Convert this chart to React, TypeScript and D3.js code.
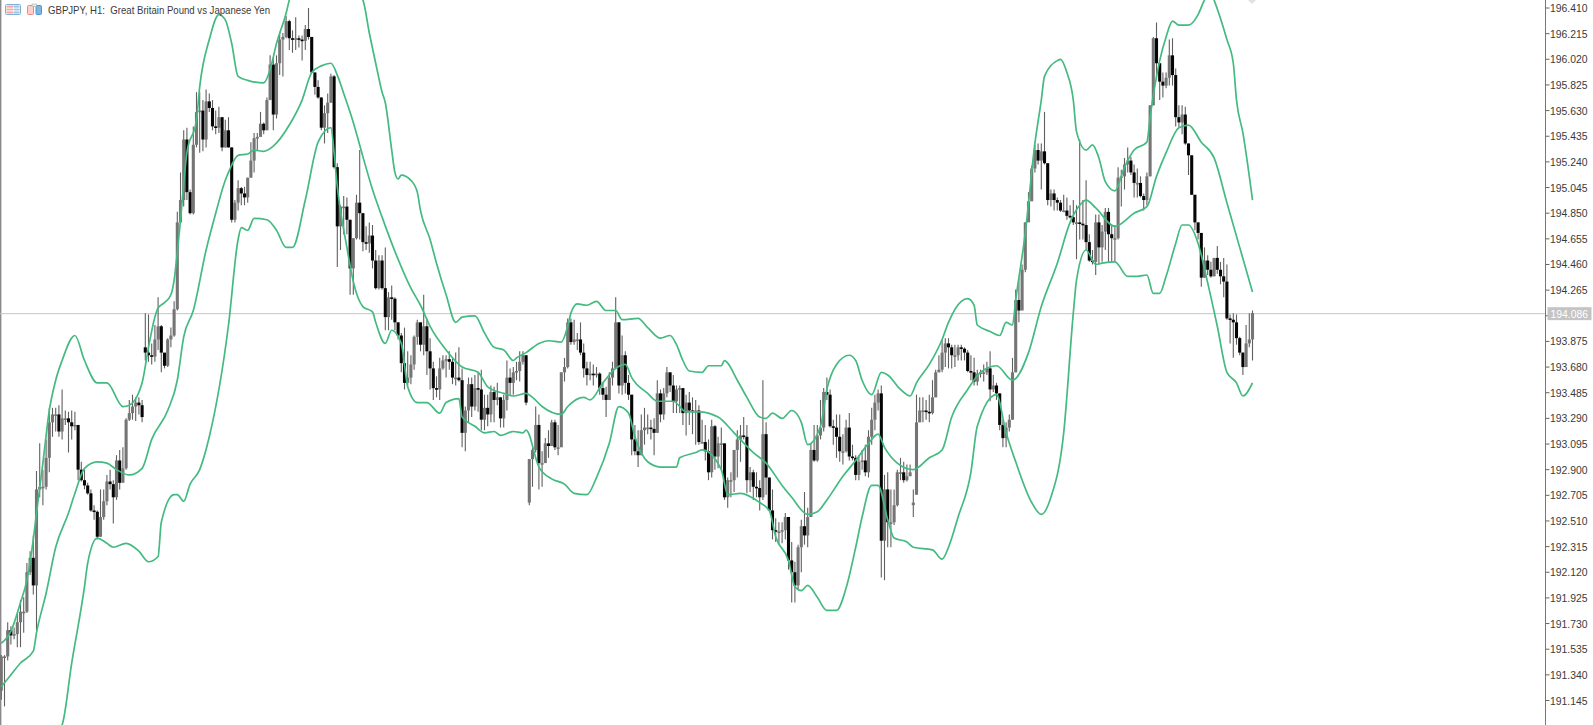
import React from "react";
import * as d3 from "d3";

const title = "GBPJPY, H1:  Great Britain Pound vs Japanese Yen";
const lastPrice = 194.086;
const lastPriceLabel = "194.086";
const tickLabels = ["196.410","196.215","196.020","195.825","195.630","195.435","195.240","195.045","194.850","194.655","194.460","194.265","194.070","193.875","193.680","193.485","193.290","193.095","192.900","192.705","192.510","192.315","192.120","191.925","191.730","191.535","191.340","191.145"];

const closes = [
191.48,191.48,191.68,191.64,191.65,191.74,191.82,191.82,192.12,192.23,192.02,192.75,192.77,192.77,192.99,193.26,193.32,193.32,193.19,193.29,
193.29,193.26,193.23,193.24,192.90,192.82,192.78,192.72,192.59,192.58,192.39,192.54,192.66,192.81,192.79,192.69,192.97,192.80,192.91,193.28,
193.33,193.38,193.41,193.39,193.30,193.79,193.77,193.76,193.89,193.99,193.79,193.69,193.89,193.92,194.12,194.78,194.95,195.41,195.01,194.85,
195.37,195.62,195.63,195.41,195.70,195.65,195.51,195.50,195.58,195.35,195.48,195.35,194.80,194.93,195.04,195.00,194.97,195.12,195.25,195.42,
195.43,195.53,195.48,195.71,195.98,195.60,195.99,196.17,196.19,196.31,196.18,196.17,196.18,196.17,196.16,196.25,196.19,195.92,195.81,195.73,
195.50,195.61,195.69,195.89,195.20,194.75,194.90,194.90,194.80,194.43,194.66,194.93,194.85,194.63,194.62,194.68,194.49,194.28,194.49,194.28,
194.06,194.21,194.20,194.02,193.92,193.71,193.56,193.60,193.70,193.91,194.02,193.85,193.99,193.80,193.67,193.52,193.51,193.67,193.73,193.74,
193.72,193.60,193.60,193.58,193.18,193.35,193.55,193.38,193.52,193.51,193.28,193.37,193.32,193.49,193.43,193.45,193.29,193.43,193.60,193.56,
193.64,193.65,193.72,193.77,193.41,192.98,193.05,193.24,192.95,192.95,193.10,193.08,193.26,193.07,193.07,193.64,193.68,194.02,193.87,193.89,
193.89,193.79,193.67,193.62,193.63,193.62,193.63,193.52,193.47,193.43,193.60,193.67,194.02,193.54,193.77,193.56,193.47,193.13,193.04,193.01,
193.20,193.22,193.22,193.21,193.18,193.48,193.32,193.48,193.64,193.54,193.42,193.51,193.52,193.33,193.41,193.35,193.34,193.35,193.11,193.11,
193.04,192.88,193.23,193.00,193.10,193.10,192.69,192.82,192.82,193.05,193.13,193.16,193.15,192.82,192.88,192.77,192.76,192.69,193.17,192.84,
192.59,192.44,192.43,192.43,192.44,192.54,192.21,192.12,192.02,192.31,192.47,192.40,192.54,193.05,192.97,193.16,193.22,193.49,193.47,193.23,
193.22,193.15,193.04,193.04,193.22,193.00,192.99,192.86,192.96,192.97,192.88,193.15,193.28,193.41,193.48,192.36,192.75,192.50,192.50,192.63,
192.88,192.88,192.82,192.85,192.88,192.65,193.26,193.35,193.35,193.34,193.33,193.45,193.64,193.66,193.79,193.86,193.83,193.77,193.77,193.83,
193.82,193.79,193.65,193.64,193.57,193.63,193.64,193.64,193.67,193.51,193.54,193.48,193.24,193.14,193.22,193.28,193.64,194.19,194.11,194.42,
194.78,194.94,195.19,195.33,195.25,195.32,195.23,194.95,195.00,194.95,194.93,194.87,194.87,194.83,194.82,194.78,194.78,194.77,194.76,194.63,
194.49,194.48,194.78,194.59,194.71,194.86,194.69,194.66,194.66,195.12,195.13,195.22,195.25,195.16,195.08,195.08,194.98,194.95,195.13,195.67,
196.18,195.99,195.85,195.82,195.88,196.05,195.90,195.58,195.54,195.60,195.38,195.29,194.99,194.78,194.70,194.36,194.49,194.42,194.37,194.51,
194.42,194.37,194.33,194.05,194.04,194.02,193.90,193.79,193.68,193.86,193.89,194.09];

const highs = [
191.49,191.49,191.74,191.71,191.70,191.80,191.91,191.93,192.19,192.28,192.40,192.89,193.10,192.90,193.13,193.37,193.37,193.37,193.39,193.51,
193.35,193.34,193.35,193.34,193.24,192.96,192.90,192.80,192.75,192.63,192.59,192.75,192.75,192.86,192.90,192.82,193.01,193.05,193.07,193.29,
193.43,193.47,193.45,193.45,193.43,194.09,194.08,193.86,194.00,194.21,194.00,193.77,193.90,193.98,194.18,194.86,195.16,195.48,195.50,195.03,
195.51,195.77,195.77,195.71,195.79,195.76,195.71,195.63,195.66,195.58,195.56,195.58,195.35,194.95,195.10,195.05,195.05,195.12,195.39,195.46,
195.46,195.62,195.54,195.73,196.05,196.03,196.05,196.23,196.22,196.35,196.32,196.24,196.34,196.20,196.20,196.28,196.41,196.19,195.92,195.86,
195.73,195.67,195.76,195.91,195.90,195.23,194.91,194.98,194.97,194.80,194.66,194.99,195.33,194.85,194.75,194.78,194.76,194.57,194.53,194.53,
194.59,194.25,194.30,194.21,194.02,193.94,193.98,193.80,193.77,193.92,194.04,194.02,194.23,194.05,193.90,193.72,193.61,193.75,193.77,193.77,
193.80,193.75,193.79,193.83,193.67,193.38,193.60,193.60,193.62,193.64,193.66,193.47,193.47,193.54,193.53,193.56,193.45,193.47,193.73,193.67,
193.68,193.72,193.80,193.80,193.77,192.98,193.07,193.38,193.32,193.04,193.14,193.20,193.28,193.28,193.24,193.64,193.75,194.05,194.05,194.04,
193.94,194.02,193.86,193.72,193.72,193.70,193.68,193.64,193.56,193.53,193.64,193.72,194.21,194.02,193.92,193.80,193.62,193.47,193.24,193.20,
193.32,193.37,193.32,193.28,193.29,193.58,193.51,193.52,193.68,193.64,193.62,193.54,193.54,193.52,193.47,193.49,193.45,193.43,193.39,193.28,
193.24,193.13,193.28,193.24,193.15,193.22,193.10,192.84,192.88,193.05,193.20,193.24,193.30,193.24,192.92,192.90,192.88,192.82,193.58,193.26,
192.84,192.75,192.53,192.50,192.50,192.57,192.54,192.35,192.20,192.33,192.52,192.73,192.61,193.10,193.24,193.24,193.43,193.52,193.60,193.51,
193.28,193.32,193.32,193.17,193.28,193.33,193.09,193.01,193.01,193.05,193.09,193.20,193.37,193.47,193.51,193.54,192.86,192.88,192.75,192.75,
192.90,192.99,192.96,192.94,192.94,192.75,193.47,193.45,193.45,193.43,193.47,193.58,193.66,193.77,193.89,193.90,193.90,193.85,193.85,193.85,
193.85,193.83,193.81,193.77,193.75,193.66,193.66,193.70,193.72,193.80,193.62,193.56,193.48,193.28,193.26,193.32,193.75,194.27,194.36,194.46,
194.78,195.01,195.21,195.37,195.38,195.38,195.62,195.23,195.03,195.03,194.97,194.95,194.99,194.97,194.91,194.95,194.91,195.41,194.95,195.10,
194.69,194.57,194.84,194.84,194.76,194.89,194.89,194.76,194.76,195.20,195.18,195.27,195.35,195.28,195.22,195.19,195.13,195.00,195.16,195.67,
196.19,196.30,195.99,195.92,195.92,196.17,196.18,195.95,195.67,195.67,195.66,195.38,195.29,194.99,194.78,194.70,194.59,194.53,194.48,194.51,
194.60,194.48,194.51,194.46,194.08,194.09,194.08,193.91,193.79,194.00,194.09,194.11];

const lows = [
191.15,191.10,191.45,191.57,191.61,191.55,191.55,191.66,191.81,192.10,191.95,191.68,192.69,192.63,192.75,192.88,193.15,193.19,193.15,193.13,
193.24,193.03,193.13,193.20,192.82,192.81,192.75,192.71,192.58,192.52,192.37,192.39,192.52,192.63,192.75,192.49,192.67,192.75,192.88,192.90,
193.27,193.28,193.27,193.32,193.26,193.73,193.72,193.70,193.72,193.81,193.64,193.67,193.68,193.83,193.91,194.11,194.81,194.90,194.95,194.84,
194.84,195.35,195.31,195.32,195.35,195.62,195.48,195.45,195.46,195.32,195.35,195.35,194.78,194.78,194.87,194.91,194.91,194.93,195.12,195.16,
195.33,195.45,195.45,195.52,195.71,195.48,195.57,195.90,195.89,196.18,196.09,196.07,196.09,196.11,196.01,196.09,196.17,195.92,195.75,195.72,
195.48,195.38,195.46,195.69,195.19,194.44,194.57,194.69,194.69,194.23,194.23,194.65,194.65,194.56,194.57,194.55,194.43,194.27,194.27,194.27,
193.96,193.96,194.04,193.96,193.89,193.64,193.51,193.54,193.55,193.66,193.85,193.80,193.77,193.62,193.51,193.43,193.45,193.43,193.66,193.60,
193.66,193.55,193.54,193.57,193.07,193.04,193.26,193.30,193.35,193.34,193.20,193.20,193.23,193.26,193.26,193.39,193.22,193.22,193.35,193.47,
193.47,193.58,193.57,193.70,193.39,192.63,192.77,193.03,192.75,192.77,192.96,192.99,193.09,193.05,193.01,193.14,193.57,193.67,193.85,193.85,
193.81,193.77,193.60,193.54,193.58,193.54,193.60,193.47,193.43,193.30,193.43,193.54,193.67,193.48,193.47,193.48,193.43,193.01,193.01,192.92,
193.01,193.09,193.17,193.13,193.01,193.18,193.26,193.28,193.45,193.49,193.33,193.33,193.33,193.24,193.16,193.24,193.17,193.09,193.09,193.10,
192.97,192.82,192.84,192.90,192.91,192.90,192.67,192.61,192.69,192.73,192.84,192.96,193.13,192.72,192.73,192.67,192.69,192.59,192.67,192.71,
192.59,192.37,192.35,192.33,192.34,192.37,192.14,191.89,191.89,191.99,192.12,192.33,192.31,192.56,192.96,192.96,193.13,193.19,193.43,193.22,
193.09,192.99,192.96,192.94,193.03,192.97,192.97,192.82,192.82,192.90,192.85,192.84,193.09,193.20,193.35,192.08,192.06,192.31,192.31,192.48,
192.62,192.82,192.80,192.81,192.86,192.54,192.71,193.26,193.26,193.28,193.26,193.32,193.45,193.64,193.64,193.68,193.67,193.67,193.68,193.73,
193.73,193.73,193.64,193.58,193.54,193.54,193.60,193.57,193.62,193.42,193.49,193.43,193.20,193.07,193.07,193.19,193.28,193.64,194.02,194.27,
194.40,194.86,194.95,195.16,195.22,195.03,195.22,194.91,194.90,194.87,194.87,194.86,194.86,194.80,194.81,194.76,194.50,194.65,194.65,194.57,
194.48,194.46,194.38,194.46,194.48,194.57,194.48,194.48,194.48,194.65,194.90,195.03,195.16,195.14,194.97,194.97,194.97,194.87,194.91,195.13,
195.67,195.88,195.71,195.73,195.80,195.82,195.82,195.51,195.50,195.45,195.37,195.14,194.99,194.72,194.65,194.29,194.36,194.38,194.36,194.37,
194.39,194.31,194.21,194.04,193.86,193.75,193.85,193.77,193.62,193.68,193.83,193.73];

// Sessions that opened away from the previous close
const gapBars = [45, 165, 285, 286];
const gapOpens = [193.83, 192.65, 192.63, 192.71];

const upperBars = [0,3,6,8,10,11,13,15,17,19,23,26,30,33,38,40,44,46,48,49,51,53,54,55,56,58,61,62,65,68,70,72,74,77,82,84,86,89,90,93,100,106,110,113,115,117,119,120,122,123,124,125,128,130,131,134,136,139,142,144,148,151,154,157,160,161,164,168,171,175,177,178,180,183,186,189,192,194,199,202,206,209,211,213,215,219,221,225,226,227,230,233,237,239,241,244,247,250,252,256,258,261,265,267,269,272,275,277,281,284,286,290,294,296,300,302,304,305,309,312,314,316,317,320,323,325,326,330,331,333,335,336,339,341,343,345,348,351,354,358,359,362,364,366,368,371,374,376,378,379,383,385,386,388,391];
const upperBand = [191.58,191.67,191.89,192.06,192.37,192.57,192.95,193.35,193.58,193.73,193.92,193.73,193.56,193.56,193.38,193.39,193.56,193.83,194.06,194.13,194.17,194.23,194.34,194.55,194.80,195.31,195.56,195.81,196.17,196.36,196.32,196.14,195.89,195.86,195.84,195.94,196.14,196.37,196.47,196.66,196.77,196.70,196.55,196.47,196.22,195.99,195.77,195.69,195.33,195.16,195.11,195.14,195.10,195.01,194.87,194.65,194.47,194.23,194.02,194.06,194.07,193.94,193.83,193.81,193.73,193.75,193.79,193.86,193.88,193.87,193.99,194.09,194.16,194.15,194.18,194.11,194.11,194.04,194.05,193.98,193.90,193.92,193.85,193.73,193.65,193.64,193.69,193.69,193.73,193.71,193.58,193.45,193.30,193.29,193.33,193.29,193.35,193.26,193.09,193.23,193.51,193.70,193.77,193.73,193.58,193.47,193.64,193.62,193.51,193.46,193.56,193.70,193.89,194.02,194.18,194.20,194.15,194.00,193.95,193.92,194.02,194.00,194.19,194.70,195.38,195.71,195.89,196.01,196.02,195.92,195.71,195.47,195.33,195.37,195.27,195.09,195.02,195.20,195.33,195.39,195.58,196.01,196.19,196.31,196.28,196.28,196.36,196.47,196.53,196.47,196.17,195.99,195.71,195.46,194.95];

const middleBars = [0,3,6,10,11,14,17,21,23,26,30,33,36,40,44,47,52,55,57,60,64,67,70,71,74,77,79,82,85,90,94,97,100,103,105,107,110,113,116,119,123,128,131,134,139,144,149,152,157,160,164,166,169,175,177,182,184,188,192,195,197,202,205,210,214,218,224,229,235,239,244,247,252,255,258,263,267,271,274,276,280,285,290,294,297,302,306,311,316,321,325,330,334,337,339,342,348,354,358,361,364,368,371,375,379,383,387,391];
const middleBand = [191.25,191.34,191.43,191.52,191.66,191.96,192.31,192.57,192.72,192.91,192.96,192.95,192.90,192.86,192.91,193.13,193.35,193.58,193.91,194.11,194.57,194.85,195.10,195.16,195.29,195.30,195.33,195.32,195.36,195.52,195.71,195.92,195.97,195.99,195.90,195.76,195.54,195.28,195.03,194.82,194.56,194.28,194.15,193.99,193.81,193.68,193.64,193.53,193.48,193.46,193.48,193.45,193.38,193.32,193.38,193.45,193.43,193.56,193.67,193.70,193.60,193.48,193.42,193.42,193.34,193.34,193.30,193.18,193.03,192.95,192.78,192.69,192.56,192.58,192.67,192.85,192.97,193.10,193.17,193.07,192.95,192.90,192.99,193.05,193.30,193.51,193.64,193.69,193.58,193.79,194.14,194.47,194.78,194.91,194.95,194.89,194.75,194.85,194.90,195.13,195.31,195.50,195.52,195.39,195.27,194.93,194.59,194.25];

const lowerBars = [0,9,15,19,22,26,27,30,33,35,39,43,46,49,50,54,55,57,59,62,65,71,74,75,77,79,83,86,89,91,95,99,103,104,105,108,110,113,116,117,120,122,125,127,130,133,137,139,143,144,148,151,154,156,160,163,164,168,172,176,179,183,186,190,193,196,198,202,206,211,212,217,219,225,227,231,237,240,242,246,248,250,252,255,258,261,264,267,269,272,274,277,279,283,285,291,294,296,299,303,305,311,314,317,322,325,328,332,335,336,339,342,344,348,352,355,358,360,362,364,367,369,371,374,377,380,383,386,388,391];
const lowerBand = [190.47,190.70,190.85,190.96,191.43,192.01,192.19,192.38,192.34,192.31,192.34,192.28,192.20,192.24,192.50,192.71,192.71,192.66,192.79,192.90,193.15,194.00,194.65,194.74,194.72,194.81,194.80,194.72,194.59,194.59,194.95,195.39,195.50,195.31,195.05,194.59,194.33,194.14,194.10,194.02,193.86,193.96,193.86,193.53,193.41,193.41,193.33,193.41,193.44,193.30,193.23,193.18,193.19,193.16,193.19,193.18,193.20,192.92,192.83,192.79,192.72,192.71,192.84,193.10,193.38,193.33,193.15,192.96,192.92,192.92,192.99,193.03,193.05,192.90,192.71,192.72,192.65,192.59,192.39,192.21,192.01,191.98,192.02,191.93,191.83,191.83,192.00,192.31,192.54,192.78,192.78,192.52,192.38,192.35,192.31,192.29,192.22,192.31,192.54,192.88,193.23,193.47,193.18,192.96,192.65,192.56,192.69,193.18,194.09,194.34,194.57,194.46,194.47,194.48,194.37,194.37,194.38,194.24,194.24,194.37,194.62,194.76,194.76,194.62,194.32,193.99,193.64,193.56,193.46,193.56];

const W = 1593;
const H = 725;
const AXIS_X = 1545.5;
const GREEN = "#43ba80";

const x = d3.scaleLinear().domain([0, closes.length - 1]).range([1.3, 1252.5]);
const y = d3.scaleLinear().domain([196.41, 191.145]).range([8, 700.5]);

function bandPath(bars: number[], vals: number[]) {
  const line = d3
    .line<number>()
    .x((b) => x(b))
    .y((_, i) => y(vals[i]))
    .curve(d3.curveMonotoneX);
  return line(bars) ?? "";
}

export default function App() {
  const font = "'Liberation Sans', Arial, sans-serif";
  const priceY = y(lastPrice);
  return (
    <svg
      width={W}
      height={H}
      viewBox={`0 0 ${W} ${H}`}
      style={{ position: "absolute", left: 0, top: 0, background: "#fff", display: "block" }}
    >
      <line x1={0.7} x2={0.7} y1={0} y2={H} stroke="#8a8a8a" strokeWidth={1.4} />
      <line x1={0} x2={AXIS_X} y1={priceY} y2={priceY} stroke="#c6c6c6" strokeWidth={1} />

      {closes.map((c, i) => {
        const g = gapBars.indexOf(i);
        const o = g >= 0 ? gapOpens[g] : i === 0 ? lows[0] + 0.07 : closes[i - 1];
        const bear = c < o;
        const top = y(Math.max(o, c));
        const bot = y(Math.min(o, c));
        const cx = x(i);
        return (
          <g key={i}>
            <line x1={cx} x2={cx} y1={y(highs[i])} y2={y(lows[i])} stroke="#606060" strokeWidth={1.1} />
            <rect
              x={cx - 1.55}
              y={top}
              width={3.1}
              height={Math.max(bot - top, 1.6)}
              fill={bear ? "#050505" : "#757575"}
            />
          </g>
        );
      })}

      <g fill="none" stroke={GREEN} strokeWidth={1.7}>
        <path d={bandPath(upperBars, upperBand)} />
        <path d={bandPath(middleBars, middleBand)} />
        <path d={bandPath(lowerBars, lowerBand)} />
      </g>

      <polygon points="1248,0 1256,0 1252,4" fill="#e4dfe4" />

      {/* Title strip icons */}
      <g>
        <rect x={5.5} y={4.5} width={15} height={10} rx={1} fill="#fff" stroke="#7fb0d8" />
        <rect x={6.5} y={5.5} width={6.5} height={8} fill="#f5a9a0" />
        <rect x={13.5} y={5.5} width={6} height={8} fill="#9cc4e6" />
        <rect x={6.5} y={7.6} width={13} height={1} fill="#fff" />
        <rect x={6.5} y={10.4} width={13} height={1} fill="#fff" />
        <rect x={27.5} y={5.5} width={6} height={9} rx={1} fill="#fbd0cb" stroke="#e98a82" />
        <rect x={36} y={5.5} width={5.5} height={9} rx={1} fill="#7db6e4" stroke="#4f94cf" />
        <rect x={32} y={4} width={4.5} height={2.5} fill="#e8e8e8" stroke="#aaa" strokeWidth={0.6} />
      </g>
      <text x={48} y={14} fontFamily={font} fontSize={10.6} fill="#3a3a3a" textLength={222} lengthAdjust="spacingAndGlyphs" xmlSpace="preserve">
        {title}
      </text>

      <line x1={AXIS_X} x2={AXIS_X} y1={0} y2={H} stroke="#777" strokeWidth={1} />
      {tickLabels.map((t) => {
        const ty = y(+t);
        return (
          <g key={t}>
            <line x1={AXIS_X} x2={AXIS_X + 4} y1={ty} y2={ty} stroke="#666" strokeWidth={1} />
            <text x={1550} y={ty + 4} fontFamily={font} fontSize={10.4} fill="#3a3a3a">
              {t}
            </text>
          </g>
        );
      })}
      <rect x={1547.5} y={priceY - 6.5} width={44} height={13} fill="#c4c4c4" />
      <text x={1550.5} y={priceY + 4} fontFamily={font} fontSize={10.4} fill="#ffffff">
        {lastPriceLabel}
      </text>
    </svg>
  );
}
